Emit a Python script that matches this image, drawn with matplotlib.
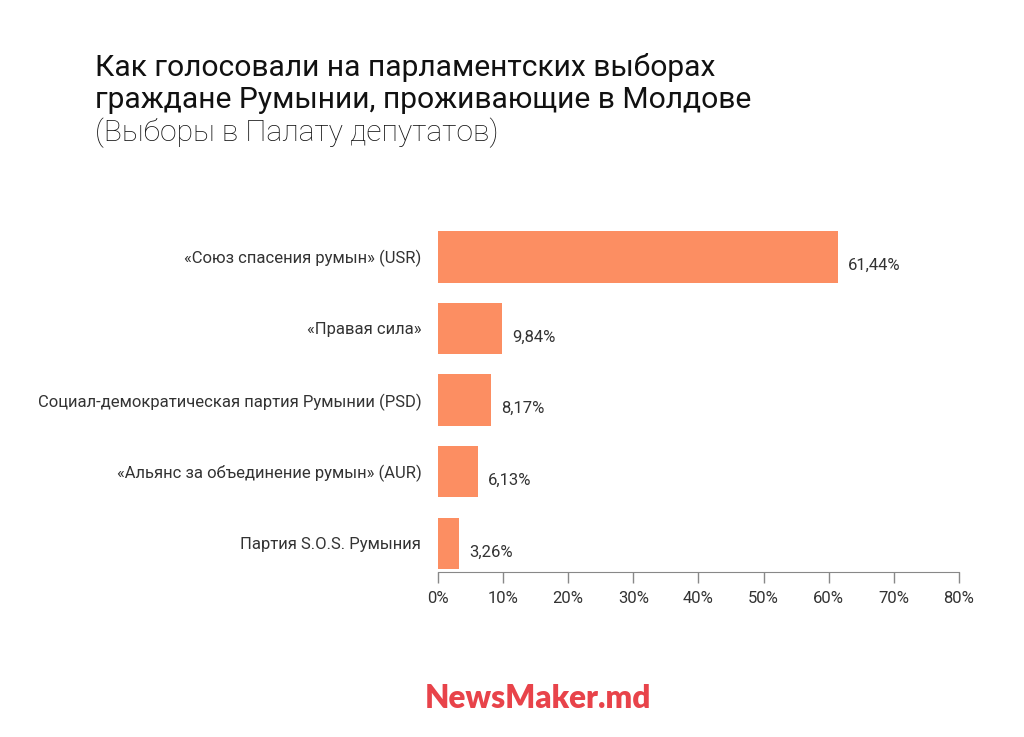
import matplotlib
matplotlib.use("Agg")
import matplotlib.pyplot as plt
from matplotlib.ticker import FuncFormatter

plt.rcParams['font.family'] = ['Roboto', 'DejaVu Sans']

# data
parties = [
    "«Союз спасения румын» (USR)",
    "«Правая сила»",
    "Социал-демократическая партия Румынии (PSD)",
    "«Альянс за объединение румын» (AUR)",
    "Партия S.O.S. Румыния",
]
shares = [61.44, 9.84, 8.17, 6.13, 3.26]
value_labels = ["61,44%", "9,84%", "8,17%", "6,13%", "3,26%"]
xticks = [0, 10, 20, 30, 40, 50, 60, 70, 80]

bar_color = "#FC8E62"
text_color = "#333333"

fig = plt.figure(figsize=(10.24, 7.37), dpi=100)
ax = fig.add_axes([0.4277, 0.2239, 0.5088, 0.4762])

pos = list(range(len(parties)))
ax.barh(pos, shares, height=0.72, color=bar_color)
ax.set_ylim(4.4, -0.5)
ax.set_xlim(0, 80)

# value labels next to bars
for p, v, lab in zip(pos, shares, value_labels):
    ax.text(v + 1.5, p + 0.12, lab, va="center", ha="left", fontsize=12, color=text_color)

ax.set_yticks(pos)
ax.set_yticklabels(parties, fontsize=12, color=text_color)
ax.tick_params(axis="y", length=0, pad=12)

ax.set_xticks(xticks)
ax.xaxis.set_major_formatter(FuncFormatter(lambda x, _: f"{x:.0f}%"))
ax.tick_params(axis="x", length=8, width=1, color="#888888", labelsize=12,
               labelcolor=text_color, pad=6)

for s in ["top", "right", "left"]:
    ax.spines[s].set_visible(False)
ax.spines["bottom"].set_color("#888888")

# title block
fig.text(0.093, 0.897, "Как голосовали на парламентских выборах", fontsize=21.6,
         color="#111111", va="baseline")
fig.text(0.093, 0.853, "граждане Румынии, проживающие в Молдове", fontsize=21.6,
         color="#111111", va="baseline")
fig.text(0.093, 0.809, "(Выборы в Палату депутатов)", fontsize=21.6, fontweight="light",
         color="#111111", va="baseline")

# logo
fig.text(0.525, 0.040, "NewsMaker.md", fontsize=22.7, fontweight="heavy", color="#E8434A",
         ha="center", va="baseline", family=["Lato", "DejaVu Sans"])

fig.savefig("out.png", dpi=100, facecolor="white")
